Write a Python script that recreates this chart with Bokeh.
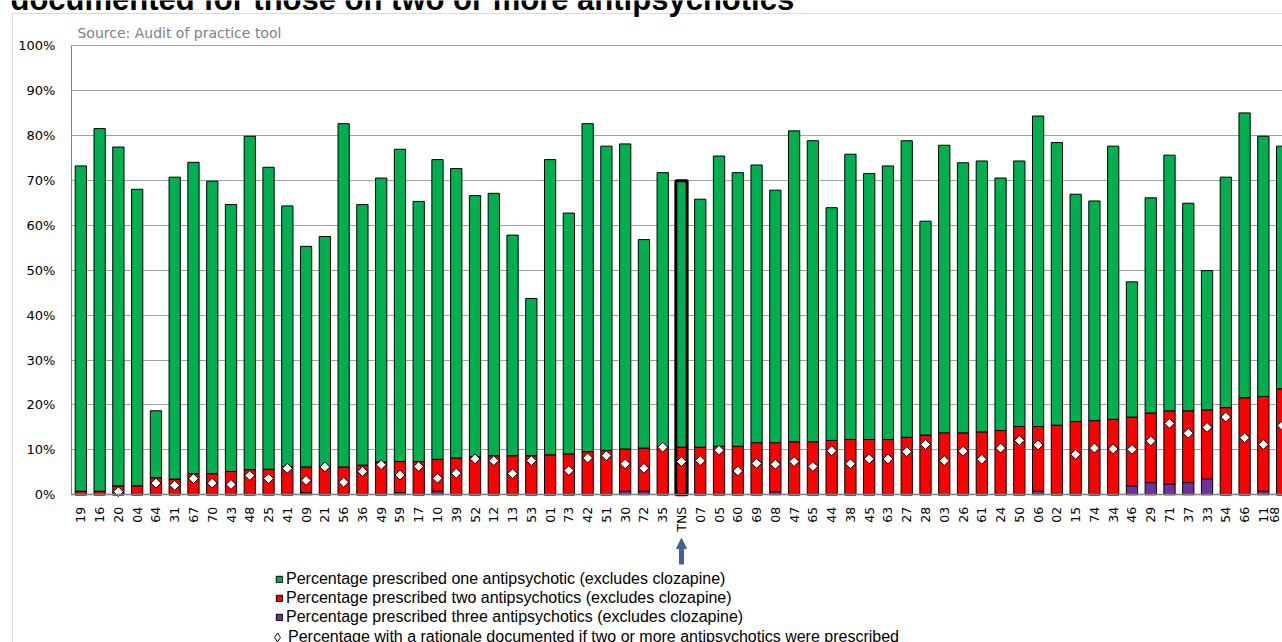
import math
import numpy as np
from bokeh.plotting import figure
from bokeh.models import (ColumnDataSource, Range1d, FixedTicker, PrintfTickFormatter,
                          Legend, LegendItem, Label, BoxAnnotation, Arrow, NormalHead)
from bokeh.embed import file_html
from bokeh.resources import INLINE

# ---------------- data ----------------
categories = ["19", "16", "20", "04", "64", "31", "67", "70", "43", "48", "25", "41", "09",
              "21", "56", "36", "49", "59", "17", "10", "39", "52", "12", "13", "53", "01",
              "73", "42", "51", "30", "72", "35", "TNS", "07", "05", "60", "69", "08", "47",
              "65", "44", "38", "45", "63", "27", "28", "03", "26", "61", "24", "50", "06",
              "02", "15", "74", "34", "46", "29", "71", "37", "33", "54", "66", "11", "68"]

# % prescribed one antipsychotic (excludes clozapine)
one = [72.4, 80.7, 75.4, 66.0, 14.9, 67.2, 69.3, 65.1, 59.4, 74.2, 67.2, 58.0, 49.1,
       51.2, 76.4, 58.0, 63.2, 69.5, 57.9, 66.7, 64.4, 58.1, 58.4, 49.1, 35.0, 65.7,
       53.6, 73.0, 67.7, 67.9, 46.4, 61.1, 59.3, 55.2, 64.6, 60.9, 61.8, 56.2, 69.2,
       67.0, 51.8, 63.5, 59.2, 60.9, 66.0, 47.6, 64.0, 60.1, 60.3, 56.2, 59.1, 69.1,
       62.9, 50.6, 48.9, 60.8, 30.1, 47.9, 56.9, 46.2, 31.0, 51.3, 63.4, 57.9, 54.0]

# % prescribed two antipsychotics (excludes clozapine)
two = [0.8, 0.8, 2.0, 2.0, 3.8, 3.5, 4.7, 4.7, 5.2, 5.6, 5.7, 6.3, 5.7,
       6.3, 6.2, 6.6, 7.3, 6.9, 7.4, 7.1, 8.2, 8.5, 8.7, 8.7, 8.7, 8.9,
       9.1, 9.6, 9.9, 9.4, 9.6, 10.6, 10.6, 10.6, 10.8, 10.8, 11.6, 10.9, 11.8,
       11.8, 12.1, 12.3, 12.3, 12.3, 12.8, 13.3, 13.8, 13.8, 14.0, 14.3, 15.2, 14.4,
       15.5, 16.3, 16.5, 16.8, 15.3, 15.5, 16.3, 16.0, 15.4, 19.4, 21.6, 21.1, 23.6]

# % prescribed three antipsychotics (excludes clozapine)
three = [0, 0, 0, 0, 0, 0, 0, 0, 0, 0, 0, 0, 0.5,
         0, 0, 0, 0, 0.5, 0, 0.8, 0, 0, 0, 0, 0, 0,
         0, 0, 0, 0.8, 0.8, 0, 0, 0, 0, 0, 0, 0.7, 0,
         0, 0, 0, 0, 0, 0, 0, 0, 0, 0, 0, 0, 0.8,
         0, 0, 0, 0, 2.0, 2.7, 2.4, 2.7, 3.5, 0, 0, 0.8, 0]

NaN = float("nan")
# % with a rationale documented if two or more antipsychotics were prescribed
rationale = [NaN, NaN, 0.7, NaN, 2.6, 2.1, 3.6, 2.6, 2.3, 4.3, 3.6, 5.9, 3.2,
             6.2, 2.8, 5.2, 6.7, 4.4, 6.3, 3.7, 4.8, 8.0, 7.6, 4.7, 7.6, NaN,
             5.4, 8.2, 8.7, 6.9, 5.9, 10.6, 7.4, 7.6, 9.9, 5.3, 7.0, 6.8, 7.4,
             6.3, 9.8, 6.9, 8.0, 8.0, 9.6, 11.2, 7.6, 9.7, 7.9, 10.4, 12.1, 11.1,
             NaN, 9.0, 10.4, 10.2, 10.1, 12.0, 15.9, 13.7, 15.0, 17.3, 12.7, 11.2, 15.4]

y_ticks = [0, 10, 20, 30, 40, 50, 60, 70, 80, 90, 100]

title_text = "documented for those on two or more antipsychotics"
source_text = "Source: Audit of practice tool"
legend_labels = [
    "Percentage prescribed one antipsychotic (excludes clozapine)",
    "Percentage prescribed two antipsychotics (excludes clozapine)",
    "Percentage prescribed three antipsychotics (excludes clozapine)",
    "Percentage with a rationale documented if two or more antipsychotics were prescribed",
]

colors = {"one": "#00B050", "two": "#FF0000", "three": "#7030A0"}

# ---------------- figure ----------------
x = list(range(len(categories)))
source = ColumnDataSource(dict(x=x, cat=categories, one=one, two=two, three=three,
                               rationale=np.array(rationale, dtype=float)))

# the plot frame covers the whole canvas; axes are pinned at x=-0.5 / y=0
p = figure(width=1282, height=642, output_backend="svg", toolbar_location=None,
           x_range=Range1d(-4.281, 64.02), y_range=Range1d(-32.873, 110.016),
           min_border=0, background_fill_color="white", border_fill_color="white",
           outline_line_color=None)
p.title.visible = False

grid_ok = "cross_bounds" in p.ygrid[0].properties()
p.xgrid.visible = False
p.ygrid.ticker = FixedTicker(ticks=y_ticks)
p.ygrid.grid_line_color = "#A0A0A0"
p.ygrid.grid_line_width = 1
if grid_ok:
    p.ygrid[0].cross_bounds = (-0.5, 70)
else:
    p.ygrid.visible = False
    p.segment(x0=[-0.5] * len(y_ticks), x1=[70] * len(y_ticks), y0=y_ticks, y1=y_ticks,
              line_color="#A0A0A0", line_width=1, level="underlay")

bars = p.vbar_stack(["three", "two", "one"], x="x", width=0.6, source=source,
                    fill_color=[colors["three"], colors["two"], colors["one"]],
                    line_color="black", line_width=1)

tns_i = categories.index("TNS")
tns_total = one[tns_i] + two[tns_i] + three[tns_i]
p.vbar(x=[tns_i], top=[tns_total], bottom=0, width=0.6, fill_color=None,
       line_color="black", line_width=3)

dots = p.scatter(x="x", y="rationale", source=source, marker="square", angle=math.pi / 4,
                 size=7, fill_color="white", line_color="black", line_width=1)
# legend-only diamond (legend markers are never rotated)
dots_key = p.scatter(x=[NaN], y=[NaN], marker="diamond", fill_color="white",
                     line_color="black", line_width=1)

# axes
p.xaxis.fixed_location = 0
p.xaxis.bounds = (-0.5, 70)
p.xaxis.ticker = FixedTicker(ticks=x)
p.xaxis.major_label_overrides = {i: c for i, c in enumerate(categories)}
p.xaxis.major_label_orientation = math.pi / 2
p.xaxis.axis_line_color = "#808080"
p.xaxis.axis_line_width = 1.5
p.xaxis.major_label_standoff = 12
p.xaxis.major_label_text_font_size = "12.5px"

p.yaxis.fixed_location = -0.5
p.yaxis.bounds = (0, 100)
p.yaxis.ticker = FixedTicker(ticks=y_ticks)
p.yaxis.formatter = PrintfTickFormatter(format="%d%%")
p.yaxis.axis_line_color = "#808080"
p.yaxis.axis_line_width = 1
p.yaxis.major_label_standoff = 16
p.yaxis.major_label_text_font_size = "13px"

for ax in (p.xaxis, p.yaxis):
    ax.major_tick_line_color = None
    ax.minor_tick_line_color = None
    ax.major_tick_out = 0
    ax.major_tick_in = 0
    ax.major_label_text_font = "DejaVu Sans"
    ax.major_label_text_color = "black"

# outer chart-area border
p.add_layout(BoxAnnotation(left=-3.642, right=70, top=107.12, bottom=-40,
                           fill_alpha=0, fill_color=None, line_color="#888888",
                           line_width=1))

# title (its top is cut off as in the reference) and source note
p.add_layout(Label(x=-3.749, y=110.33, text=title_text, text_font="Liberation Sans",
                   text_font_style="bold", text_font_size="31px",
                   text_baseline="middle", text_align="left", text_color="black"))
p.add_layout(Label(x=-0.181, y=102.78, text=source_text, text_font="DejaVu Sans",
                   text_font_size="14px", text_color="#7F7F7F",
                   text_baseline="middle", text_align="left"))

# legends (frame == canvas, so locations are pixels from the bottom-left)
leg_common = dict(border_line_color=None, background_fill_alpha=0, padding=0, margin=0,
                  spacing=0, label_text_font="Liberation Sans", label_text_font_size="16px",
                  label_text_color="black", label_height=19)
legend1 = Legend(items=[LegendItem(label=legend_labels[0], renderers=[bars[2]]),
                        LegendItem(label=legend_labels[1], renderers=[bars[1]]),
                        LegendItem(label=legend_labels[2], renderers=[bars[0]])],
                 location=(275, 16), glyph_width=8, glyph_height=8,
                 label_standoff=3, **leg_common)
legend2 = Legend(items=[LegendItem(label=legend_labels[3], renderers=[dots_key])],
                 location=(266, -6), glyph_width=22, glyph_height=22,
                 label_standoff=-4, **leg_common)
p.add_layout(legend1)
p.add_layout(legend2)

# arrow under TNS
p.add_layout(Arrow(x_start=tns_i, y_start=-15.51, x_end=tns_i, y_end=-9.73,
                   line_color="#3D6494", line_width=5,
                   end=NormalHead(size=10, fill_color="#3D6494", line_color="#3D6494")))

open("out.html", "w").write(file_html(p, INLINE))
